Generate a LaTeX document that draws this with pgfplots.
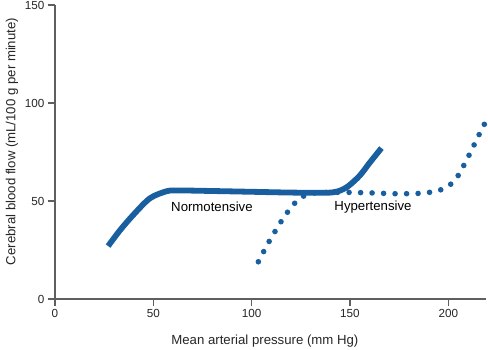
\documentclass[border=0pt]{standalone}
\usepackage{pgfplots}
\pgfplotsset{compat=1.18}
\usepackage{fontspec}
\setmainfont{Liberation Sans}
\definecolor{cbf}{RGB}{25,95,160}
\definecolor{axgray}{RGB}{95,95,95}
\begin{document}
\begin{tikzpicture}
\begin{axis}[
  scale only axis,
  width=430.7pt, height=294pt,
  xmin=0, xmax=219, ymin=0, ymax=150,
  axis x line*=bottom, axis y line*=left,
  axis line style={axgray, line width=1.3pt, -},
  xtick={0,50,100,150,200}, ytick={0,50,100,150},
  tick align=outside, major tick length=7pt,
  tick style={axgray, line width=1.3pt},
  /pgf/number format/assume math mode=true,
  tick label style={font=\fontsize{11.7}{13}\selectfont, text=black!85},
  clip=false,
]
\addplot[cbf, line width=5.6pt, line cap=round, dash pattern=on 0pt off 11.5pt, smooth, tension=0.5] coordinates {
(103.4,19) (108.8,29.2) (114.9,39.4) (118.3,44.4) (122,49) (126.6,52.6) (132,54.1) (140,54.4) (150,54.4) (161.8,54.1) (173.7,53.7) (185.5,53.9) (191.5,54.6) (196.9,56) (202,59.2) (205.6,63.9) (208.4,69.2) (211,74.3) (216.2,85) (219,90.5)
};
\addplot[cbf, line width=5.8pt, line cap=butt, smooth, tension=0.5] coordinates {
(27,27) (33,35) (39.8,42.9) (48.3,51.4) (56.8,55.0) (62,55.4) (80,55.1) (100,54.7) (120,54.3) (138,54.2) (144,55) (149,57.5) (155,63) (160,69.5) (166,77)
};
\node[font=\fontsize{13.2}{15}\selectfont] at (axis cs:79.8,46.9) {Normotensive};
\node[font=\fontsize{13.2}{15}\selectfont] at (axis cs:161.7,46.8) {Hypertensive};
\end{axis}
\node[font=\fontsize{13.2}{15}\selectfont, text=black!85] at (209.9pt,-41.7pt) {Mean arterial pressure (mm Hg)};
\node[font=\fontsize{13.2}{15}\selectfont, text=black!85, rotate=90] at (-43pt,157.5pt) {Cerebral blood flow (mL/100 g per minute)};
\pgfresetboundingbox
\path[use as bounding box] (-55pt,-50pt) rectangle (433pt,299pt);
\end{tikzpicture}
\end{document}
